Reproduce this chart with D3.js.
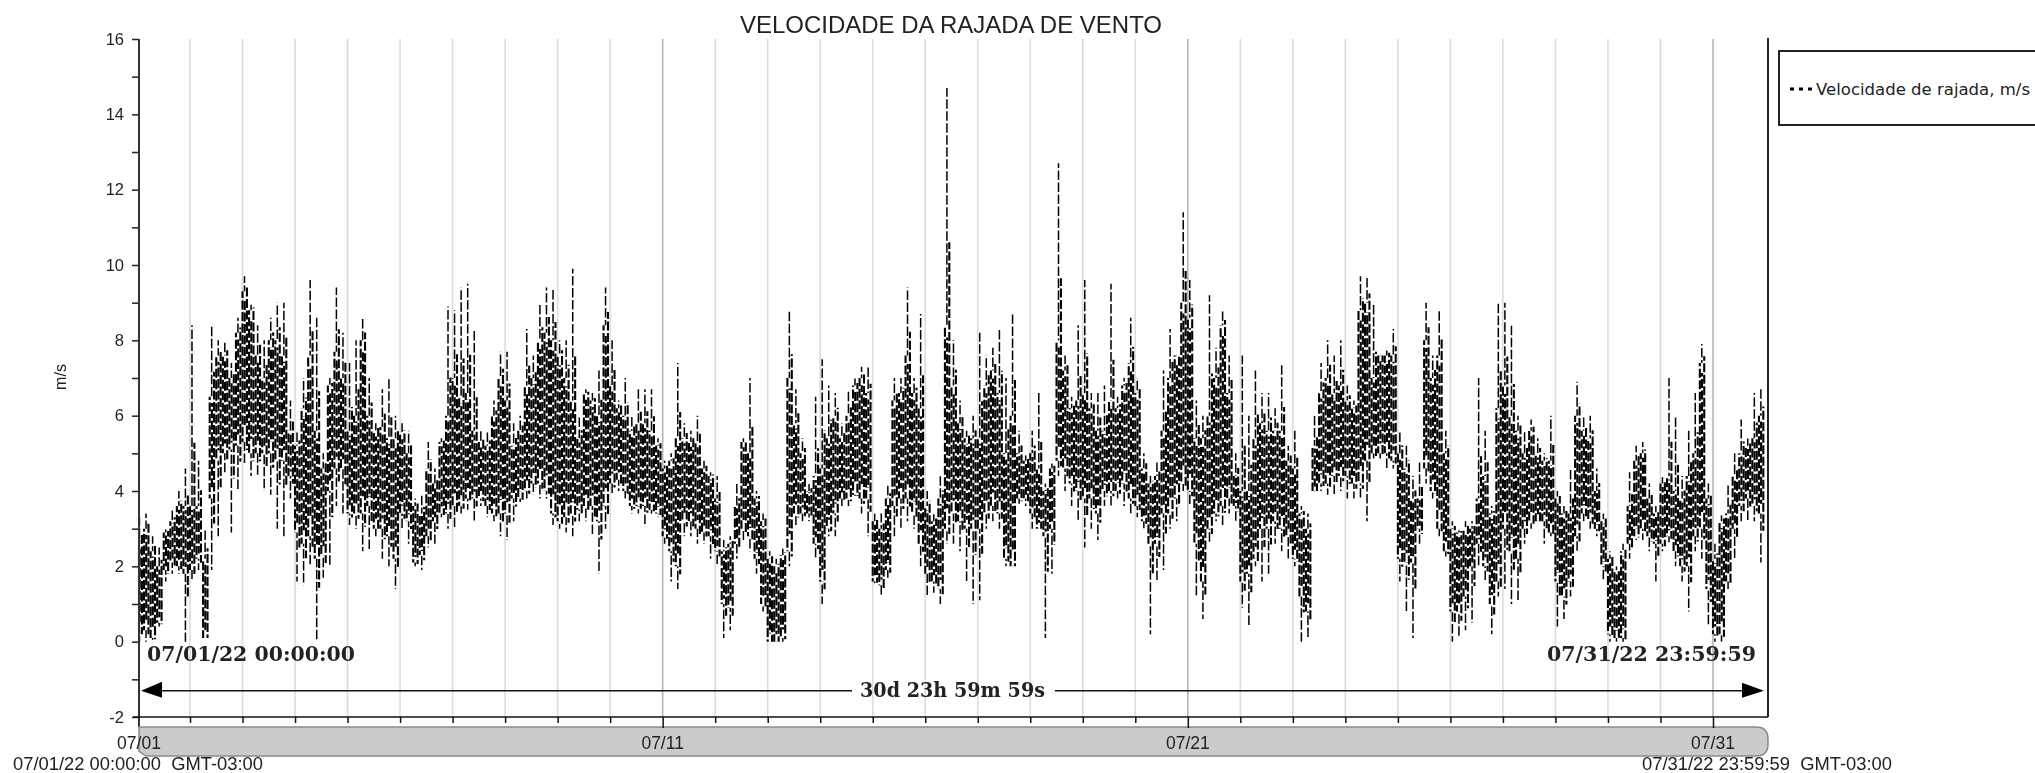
<!DOCTYPE html>
<html><head><meta charset="utf-8">
<script src="https://cdn.jsdelivr.net/npm/d3@7"></script>
<style>
html,body{margin:0;padding:0;background:#fff;overflow:hidden}
svg{display:block;filter:blur(0.4px)}
text{fill:#222;white-space:pre}
</style></head><body>
<svg id="c" width="2035" height="773"></svg>
<script>
// Readings per 3 hours, one row per day (07/01 ... 07/31), m/s
const gustPeak = [
3.3,3.4,2.8,2.5,3.0,3.5,4.0,4.6,
8.4,4.8,3.0,8.4,8.0,8.0,7.4,8.6,
9.7,9.0,8.4,8.0,8.6,9.0,9.0,6.4,
5.6,7.0,9.6,8.6,5.0,7.0,9.4,8.2,
7.4,8.0,8.6,7.0,5.8,6.7,7.0,6.0,
5.8,5.6,3.8,3.9,5.3,4.6,5.4,8.9,
8.8,9.4,9.5,8.3,5.6,5.6,6.4,7.7,
7.7,5.8,6.0,8.3,7.6,9.0,9.4,9.4,
8.0,8.0,9.9,6.0,6.7,6.6,7.2,9.4,
8.0,6.4,7.0,6.0,6.7,6.7,6.7,5.4,
4.8,5.0,7.4,5.8,5.6,6.0,4.8,4.5,
4.4,2.7,2.8,4.2,5.4,7.0,4.0,3.4,
2.4,2.2,2.5,8.8,6.7,5.4,4.2,6.5,
7.5,6.8,6.6,5.8,6.7,7.0,7.3,7.3,
3.4,3.4,4.2,7.0,7.0,9.4,7.0,8.7,
4.0,3.4,4.4,14.7,8.0,6.4,5.6,6.0,
8.2,7.6,7.8,8.3,7.0,8.7,5.6,5.0,
5.6,6.6,4.2,4.8,12.7,7.6,6.5,8.4,
9.6,6.6,6.6,6.8,9.5,6.5,7.0,8.6,
7.0,5.0,4.4,4.8,7.2,8.3,7.6,11.4,
9.6,6.4,6.0,9.2,7.8,8.8,7.6,5.0,
7.6,6.0,7.2,6.6,6.6,6.2,7.4,5.2,
5.6,3.6,3.4,6.0,7.4,8.0,7.6,8.0,
6.8,6.4,9.7,9.7,9.0,7.6,7.8,8.3,
5.6,5.2,4.4,4.8,9.0,7.6,8.8,5.6,
3.2,3.0,3.2,3.2,7.0,5.6,3.6,9.0,
9.0,8.4,6.0,5.6,5.9,5.4,5.0,6.0,
4.0,3.6,4.6,6.9,6.0,6.0,4.6,3.4,
2.4,2.0,2.6,4.5,5.2,5.3,4.2,3.6,
4.4,7.0,6.0,4.4,5.6,6.6,7.9,4.2,
2.6,3.4,4.2,5.0,5.9,5.4,6.6,6.7];
const gustUpper = [
2.6,3.0,2.4,2.0,2.9,3.2,3.6,3.6,
3.6,3.6,2.2,6.5,7.6,7.6,7.0,8.2,
9.3,8.8,7.6,7.0,8.0,8.0,7.6,5.6,
5.2,6.2,7.6,5.6,4.6,6.8,7.7,7.0,
5.6,6.0,8.0,6.0,5.6,5.7,5.4,5.4,
5.5,5.0,3.6,3.4,4.6,4.2,5.3,6.0,
7.0,6.5,6.6,5.6,5.3,5.2,6.0,7.0,
6.4,5.2,5.6,6.8,7.0,8.0,8.2,8.0,
7.6,7.0,6.4,5.4,6.6,6.4,6.0,8.4,
6.8,6.2,6.0,5.6,5.8,5.8,5.6,5.2,
4.6,4.8,5.4,5.4,5.3,5.3,4.6,4.4,
3.8,2.4,2.6,3.6,5.3,5.0,3.8,3.2,
2.2,2.0,2.3,7.0,5.8,5.0,4.0,4.4,
4.6,5.4,6.0,5.4,6.0,6.8,7.0,6.6,
3.2,3.0,3.8,6.4,6.6,7.6,6.6,6.2,
3.6,3.2,3.8,8.4,6.8,5.8,5.4,5.4,
5.4,6.8,7.2,6.6,5.0,6.0,5.0,4.8,
5.0,4.6,4.0,4.6,8.0,7.2,6.2,6.4,
6.6,6.2,5.6,5.6,6.4,6.2,6.8,7.4,
6.6,4.6,4.2,4.4,5.6,7.0,7.6,9.0,
8.6,5.4,5.4,6.0,7.0,8.4,6.6,4.4,
4.0,4.0,5.4,5.8,5.6,5.6,5.6,4.8,
4.6,3.4,3.0,5.2,6.6,7.0,6.6,6.8,
6.4,6.2,8.8,9.0,7.0,7.6,7.6,7.6,
5.0,4.6,3.8,3.8,8.0,7.0,7.6,5.0,
3.0,2.9,3.0,3.0,3.8,4.4,3.4,6.2,
6.8,6.0,5.6,5.0,5.6,5.0,4.8,4.8,
3.8,3.4,3.4,6.0,5.6,5.4,4.0,3.2,
2.2,1.9,2.4,3.6,4.8,5.0,3.8,3.4,
4.2,4.4,4.0,3.8,4.4,5.0,7.4,3.8,
2.2,3.2,3.4,4.4,5.0,5.2,5.4,6.0];
const gustLower = [
0.3,0.3,0.1,0.5,1.9,2.1,2.0,1.8,
1.9,2.2,0.1,3.8,4.8,5.0,5.1,5.2,
5.3,5.0,5.0,5.0,5.0,4.8,4.8,4.4,
2.9,2.6,2.8,2.2,2.3,4.0,4.6,4.6,
3.4,3.4,3.4,3.6,3.0,3.0,2.8,2.2,
3.4,3.2,2.1,2.3,2.8,3.2,3.4,3.4,
3.6,3.6,3.8,3.8,3.8,3.6,3.4,3.4,
3.4,3.8,3.8,4.0,4.2,4.2,4.0,3.4,
3.2,3.3,3.4,3.5,3.6,3.6,3.2,3.6,
4.2,4.3,4.0,3.6,3.6,3.6,3.5,3.4,
2.8,2.4,2.0,3.2,3.2,3.0,2.9,2.8,
2.4,1.0,0.9,2.6,3.0,2.8,2.2,1.0,
0.0,0.0,0.1,2.4,3.4,3.4,3.4,2.6,
1.6,3.0,3.4,3.8,3.8,3.9,3.8,3.8,
1.6,1.5,1.9,3.6,3.8,3.8,3.4,2.6,
1.8,1.6,1.4,3.0,3.4,3.2,3.0,3.0,
3.0,3.4,3.6,3.4,2.2,2.0,3.8,3.8,
3.4,3.0,2.8,3.0,4.8,4.6,4.2,4.0,
3.8,3.8,3.4,4.0,4.0,4.0,4.2,3.8,
3.6,3.2,2.6,2.6,3.4,3.4,3.8,4.2,
4.0,2.6,1.6,3.0,3.4,3.6,3.8,3.6,
1.6,1.8,2.2,3.0,3.0,3.2,3.0,2.8,
2.2,1.2,0.8,4.0,4.2,4.2,4.4,4.4,
4.4,4.2,4.2,4.8,5.0,5.0,5.0,4.8,
2.2,2.1,2.1,3.0,4.6,4.0,3.0,2.4,
0.8,0.8,1.2,2.0,2.6,2.0,1.0,1.6,
3.0,2.4,2.2,3.0,3.2,3.2,3.2,2.9,
1.6,1.2,1.6,2.8,3.4,3.2,3.0,2.0,
0.2,0.1,0.1,2.6,2.8,3.0,2.8,2.6,
2.6,2.8,2.4,2.0,2.0,2.8,3.0,1.4,
0.2,0.2,1.6,3.0,3.6,3.8,3.6,3.4];
const gustTrough = [
0.0,0.0,0.0,0.4,1.6,1.8,1.8,0.0,
1.6,1.9,0.1,1.9,2.8,4.5,2.9,4.0,
4.7,4.4,4.4,4.0,3.9,3.0,2.8,3.8,
1.6,1.5,2.0,0.0,1.7,2.0,3.6,3.4,
3.1,3.0,2.4,2.4,2.8,2.2,2.0,1.4,
3.0,2.6,2.0,1.9,2.5,2.6,3.3,3.0,
3.0,3.4,3.5,3.2,3.6,3.3,3.2,2.8,
2.7,3.2,3.7,3.8,3.9,3.8,3.8,3.1,
3.0,2.9,2.8,3.2,3.2,2.8,1.8,3.0,
3.9,4.0,3.8,3.4,3.4,3.1,3.4,3.3,
2.6,1.6,1.4,2.8,2.8,2.6,2.6,2.2,
2.0,0.1,0.3,2.2,2.7,2.4,1.8,0.8,
0.0,0.0,0.0,2.0,3.1,3.2,3.2,2.2,
1.0,2.8,2.8,3.6,3.6,3.8,3.4,2.8,
1.5,1.2,1.7,2.8,3.0,3.2,3.0,2.0,
1.2,1.3,1.0,2.6,2.6,2.4,1.6,1.0,
1.1,3.0,3.2,3.0,2.0,2.0,3.6,3.6,
3.0,3.0,0.1,1.8,4.4,4.0,3.6,3.2,
2.5,3.0,2.7,3.6,3.6,3.8,3.6,3.4,
3.3,3.0,0.2,1.6,1.9,3.0,3.2,4.0,
3.6,1.2,0.6,2.6,3.2,3.1,3.4,3.2,
0.9,0.4,2.0,1.6,1.8,2.6,2.4,2.2,
2.0,0.0,0.1,4.0,4.0,3.9,3.9,4.0,
3.8,3.8,3.8,3.2,4.8,4.8,4.6,4.6,
1.6,0.8,0.1,2.6,4.2,3.8,2.8,2.2,
0.0,0.1,0.3,0.5,2.0,1.6,0.2,1.2,
1.4,1.0,1.1,2.6,3.0,3.2,2.6,2.8,
0.4,0.6,1.2,2.4,3.2,3.0,2.8,1.6,
0.0,0.0,0.0,2.2,2.7,2.7,2.4,1.6,
2.4,2.6,2.0,1.6,0.8,2.4,2.2,0.4,
0.0,0.0,1.4,2.2,3.2,3.2,3.2,2.1];
const yTickValues = d3.range(-2, 17);
const dayLabels = [["07/01",0],["07/11",10],["07/21",20],["07/31",30]];
const chartTitle = "VELOCIDADE DA RAJADA DE VENTO";
const legendLabel = "Velocidade de rajada, m/s";
const yLabel = "m/s";
const startStamp = "07/01/22 00:00:00";
const endStamp = "07/31/22 23:59:59";
const spanLabel = "30d 23h 59m 59s";
const zone = "GMT-03:00";

const svg = d3.select("#c");
const L=139, R=1768, T=39, B=717;
const t0 = Date.UTC(2022,6,1), t1 = Date.UTC(2022,7,1), stepMs = 3*3600e3;
const x = d3.scaleUtc().domain([t0,t1]).range([137.5,1765.5]);
const y = d3.scaleLinear().domain([-2,16]).range([B,T]);
const sans = "'Liberation Sans',Arial,sans-serif";
const days = d3.utcDay.range(t0,t1);
const isMajor = d => (d.getUTCDate()-1)%10===0;
const fit = (s,w)=>s.attr("textLength",w).attr("lengthAdjust","spacingAndGlyphs");

// grid
svg.append("g").selectAll("line").data(days.slice(1)).join("line")
 .attr("x1",d=>x(d)).attr("x2",d=>x(d)).attr("y1",T).attr("y2",B)
 .attr("stroke",d=>isMajor(d)?"#b4b4b4":"#dcdcdc").attr("stroke-width",1.6);

// series: vertical dashed strokes, gaps anchored to shared rows of the y axis
const ln = d3.line().x(d=>Math.max(L,x(d[0]))).y(d=>y(d[1]));
const plot = svg.append("g").attr("fill","none").attr("stroke","#000");
const period = 11.5, passes = 3;
function stroke(t,lo,hi,k,w,dash,per){
  const top = y(hi), phase = (k*k*0.618)%1;
  plot.append("path").attr("d",ln([[t,hi],[t,lo]]))
    .attr("stroke-width",w).attr("stroke-dasharray",dash)
    .attr("stroke-dashoffset",(top + phase*per)%per);
}
gustUpper.forEach((hi,i)=>{
  const lo = gustLower[i], pk = gustPeak[i], tr = gustTrough[i];
  const spans = [
    [lo, hi],
    [lo+(hi-lo)*0.10, hi-(hi-lo)*0.06],
    [lo-(lo-tr)*0.35, hi+(pk-hi)*0.35]
  ];
  spans.forEach((s,p)=>{
    stroke(t0+(i+p/passes)*stepMs, s[0], s[1], i*passes+p, 2.1, "9 2.5", period);
  });
  // extreme excursions of the 3-hour window
  const tw = t0+(i+0.3)*stepMs;
  stroke(tw, hi, pk, i, 1.5, "9.5 2.5", 12);
  stroke(tw, tr, lo, i, 1.5, "9.5 2.5", 12);
});

// y axis
const yAxis = d3.axisLeft(y).tickValues(yTickValues).tickSize(7).tickPadding(8)
 .tickFormat(d=>d%2===0?d:"");
const gy = svg.append("g").attr("transform",`translate(${L},0)`).call(yAxis);
gy.selectAll("text").attr("font-family",sans).attr("font-size",16.5);
gy.selectAll("line").attr("stroke","#222").attr("stroke-width",1.5);
gy.select(".domain").remove();
svg.append("line").attr("x1",L).attr("x2",L).attr("y1",T).attr("y2",727).attr("stroke","#333").attr("stroke-width",2);

// range strip
const stripTop=727, stripBot=756;
svg.append("path").attr("d",`M${L+2},${stripTop}H${R-12}Q${R},${stripTop} ${R},${stripTop+12}V${stripBot-12}Q${R},${stripBot} ${R-12},${stripBot}H${L+7}L${L},${stripBot-5}V${stripTop}Z`)
 .attr("fill","#cbcbcb").attr("stroke","#8a8a8a").attr("stroke-width",1.5);

// x axis
const xAxis = d3.axisBottom(x).tickValues(days.slice(1)).tickSize(6).tickFormat("");
const gx = svg.append("g").attr("transform",`translate(0,${B})`).call(xAxis);
gx.select(".domain").remove();
gx.selectAll("line").attr("stroke","#111").attr("stroke-width",1.5).attr("y2",d=>isMajor(d)?11:6);
svg.append("line").attr("x1",L-6).attr("x2",R).attr("y1",B).attr("y2",B).attr("stroke","#111").attr("stroke-width",1.5);
svg.append("line").attr("x1",R).attr("x2",R).attr("y1",T-1).attr("y2",B).attr("stroke","#222").attr("stroke-width",2);

svg.append("g").selectAll("text").data(dayLabels).join("text")
 .attr("x",d=>d[1]===0?L:x(t0+d[1]*864e5)).attr("y",749).attr("text-anchor","middle")
 .attr("font-family",sans).attr("font-size",17.5).text(d=>d[0]);

// stamps under strip
fit(svg.append("text").attr("x",13).attr("y",770).attr("font-family",sans).attr("font-size",17.5).text(startStamp+"  "+zone),250);
fit(svg.append("text").attr("x",1642).attr("y",770).attr("font-family",sans).attr("font-size",17.5).text(endStamp+"  "+zone),250);

// span annotation
const serif="'DejaVu Serif',serif";
const ay=690.7;
fit(svg.append("text").attr("x",147).attr("y",661).attr("font-family",serif).attr("font-weight","bold").attr("font-size",20).text(startStamp),208);
fit(svg.append("text").attr("x",1547).attr("y",661).attr("font-family",serif).attr("font-weight","bold").attr("font-size",20).text(endStamp),209);
fit(svg.append("text").attr("x",860).attr("y",697).attr("font-family",serif).attr("font-weight","bold").attr("font-size",19.5).text(spanLabel),185);
svg.append("line").attr("x1",150).attr("x2",852).attr("y1",ay).attr("y2",ay).attr("stroke","#111").attr("stroke-width",1.6);
svg.append("line").attr("x1",1055).attr("x2",1750).attr("y1",ay).attr("y2",ay).attr("stroke","#111").attr("stroke-width",1.6);
svg.append("path").attr("d",`M141,${ay}L162,${ay-9}V${ay+7}Z`).attr("fill","#000");
svg.append("path").attr("d",`M1764,${ay}L1742,${ay-8}V${ay+7}Z`).attr("fill","#000");

// title + y label
fit(svg.append("text").attr("x",740).attr("y",33).attr("font-family",sans).attr("font-size",23.5).text(chartTitle),422);
svg.append("text").attr("transform","translate(66,377) rotate(-90)").attr("text-anchor","middle").attr("font-family",sans).attr("font-size",16).text(yLabel);

// legend
svg.append("rect").attr("x",1779).attr("y",51).attr("width",300).attr("height",74).attr("fill","#fff").attr("stroke","#222").attr("stroke-width",2);
svg.append("line").attr("x1",1790).attr("x2",1813).attr("y1",89).attr("y2",89).attr("stroke","#000").attr("stroke-width",3).attr("stroke-dasharray","4 5");
fit(svg.append("text").attr("x",1816).attr("y",95).attr("font-family","'DejaVu Sans',sans-serif").attr("font-size",16.6).text(legendLabel),214);
</script>
</body></html>
